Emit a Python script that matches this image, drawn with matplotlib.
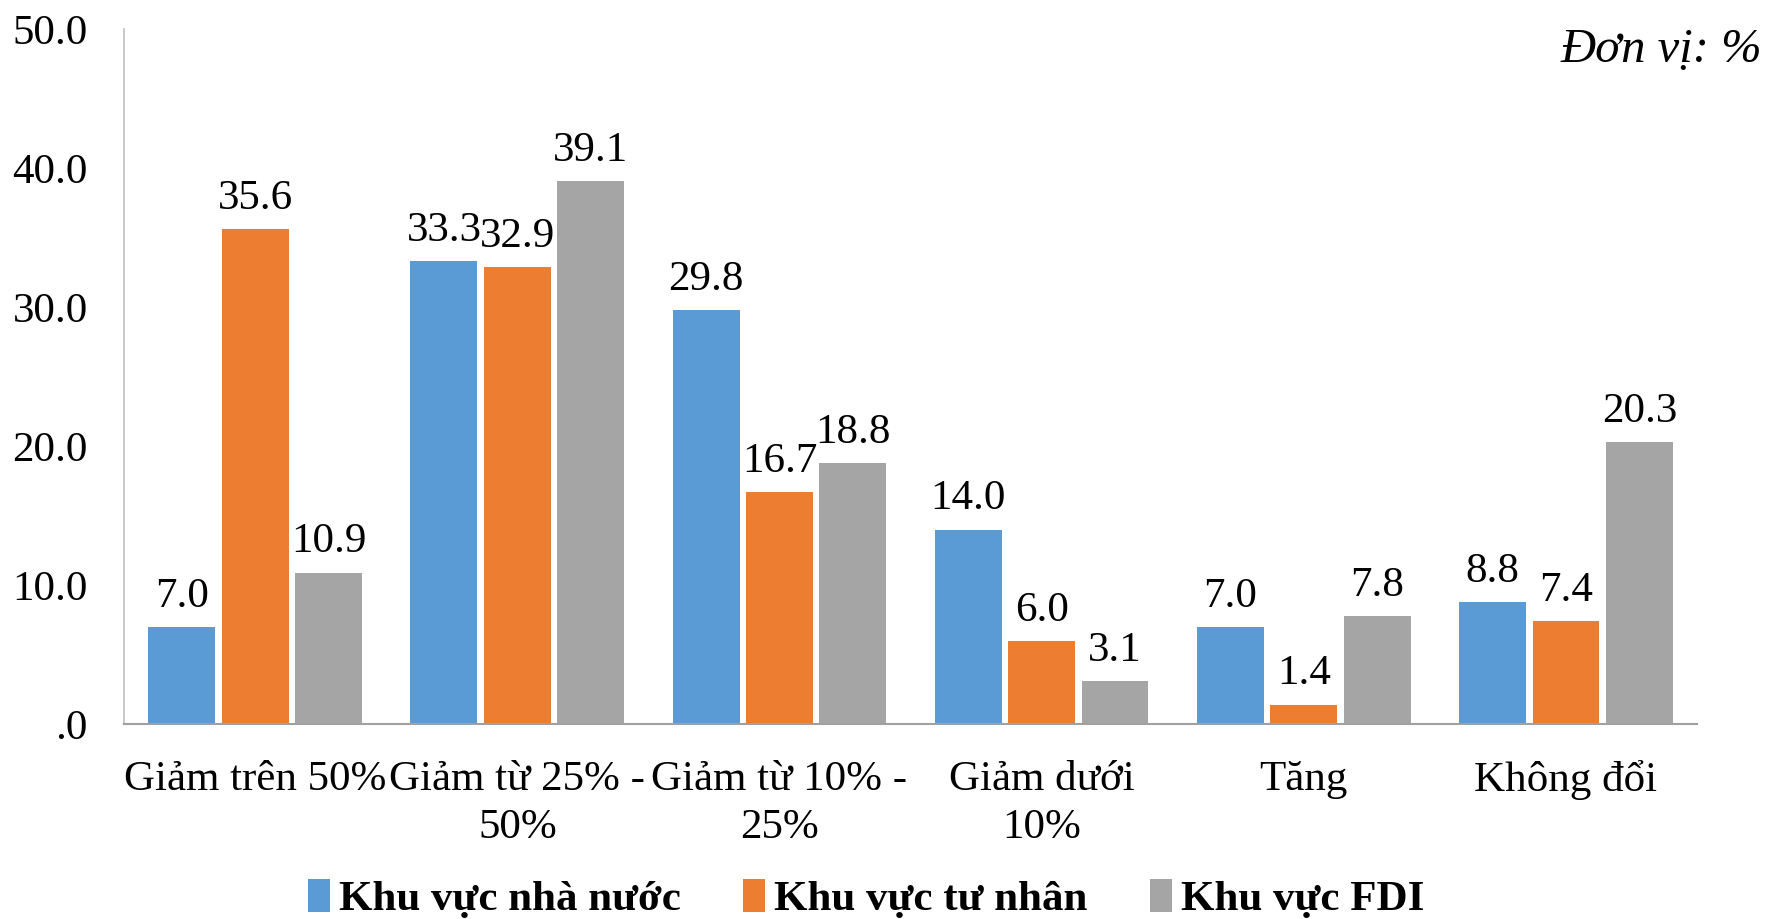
import numpy as np
import matplotlib
matplotlib.use('Agg')
import matplotlib.pyplot as plt
from matplotlib import rcParams

rcParams['font.family'] = ['Liberation Serif', 'DejaVu Serif']

categories = ['Giảm trên 50%', 'Giảm từ 25% -\n50%', 'Giảm từ 10% -\n25%',
              'Giảm dưới\n10%', 'Tăng', 'Không đổi']
series_names = ['Khu vực nhà nước', 'Khu vực tư nhân', 'Khu vực FDI']
nha_nuoc = [7.0, 33.3, 29.8, 14.0, 7.0, 8.8]
tu_nhan = [35.6, 32.9, 16.7, 6.0, 1.4, 7.4]
fdi = [10.9, 39.1, 18.8, 3.1, 7.8, 20.3]
yticks = [0, 10, 20, 30, 40, 50]
ytick_labels = ['.0', '10.0', '20.0', '30.0', '40.0', '50.0']

colors = ['#5B9BD5', '#ED7D31', '#A5A5A5']
fs = 31

fig = plt.figure(figsize=(17.7, 9.19), dpi=100)
ax = fig.add_axes([0.0701, 0.2122, 0.8887, 0.7558])

x = np.arange(len(categories))
width = 0.255
offsets = [-0.28, 0, 0.28]
for vals, off, c, name in zip([nha_nuoc, tu_nhan, fdi], offsets, colors, series_names):
    bars = ax.bar(x + off, vals, width, color=c, label=name)
    for b, v in zip(bars, vals):
        ax.annotate(f'{v:.1f}', (b.get_x() + b.get_width() / 2, v),
                    xytext=(0, 8), textcoords='offset points',
                    ha='center', va='bottom', fontsize=fs)

ax.set_xlim(-0.5, len(categories) - 0.5)
ax.set_ylim(0, 50)
ax.set_yticks(yticks)
ax.set_yticklabels(ytick_labels, fontsize=fs)
ax.set_xticks(x)
ax.set_xticklabels(categories, fontsize=fs, linespacing=1.33)
ax.tick_params(axis='both', length=0)
ax.tick_params(axis='y', pad=26)
ax.tick_params(axis='x', pad=26)

for s in ['top', 'right']:
    ax.spines[s].set_visible(False)
ax.spines['left'].set_color('#BFBFBF')
ax.spines['bottom'].set_color('#A0A0A0')
ax.spines['left'].set_linewidth(1.2)
ax.spines['bottom'].set_linewidth(1.5)

fig.text(0.9955, 0.9456, 'Đơn vị: %', ha='right', va='center',
         fontsize=35, style='italic')

fig.legend(loc='center', bbox_to_anchor=(0.4895, 0.022), ncol=3, frameon=False,
           prop={'size': fs, 'weight': 'bold'}, handlelength=0.5, handleheight=0.8,
           handletextpad=0.22, columnspacing=1.45)

fig.savefig('out.png', dpi=100)
